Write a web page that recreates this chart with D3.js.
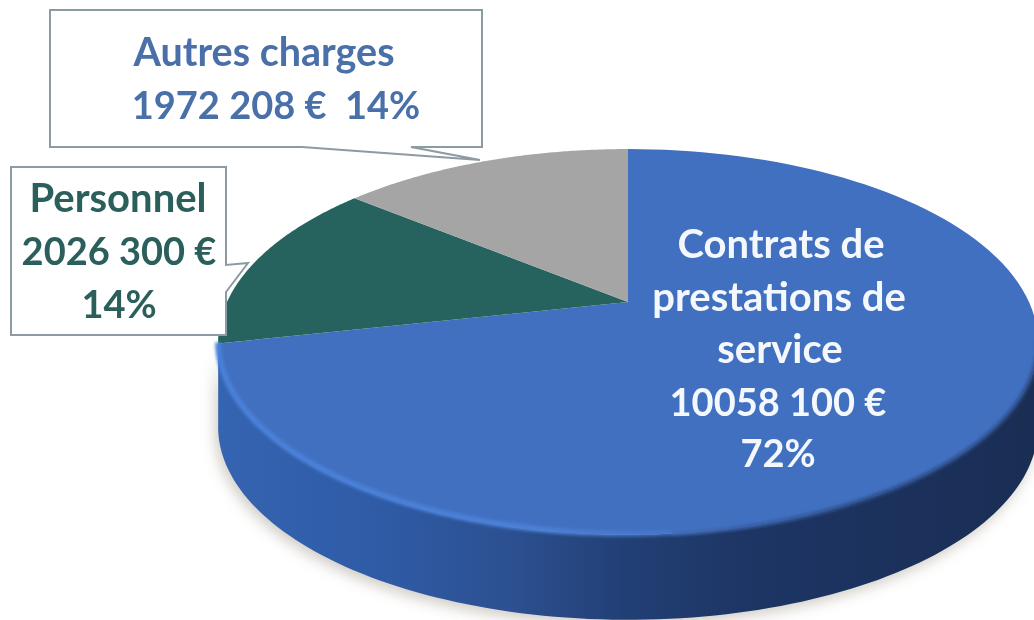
<!DOCTYPE html>
<html lang="fr">
  <head>
    <meta charset="UTF-8" />
    <title>Charges</title>
    <style>
      html, body { margin: 0; padding: 0; background: #fff; }
      svg { display: block; }
      text { font-family: Lato, 'Open Sans', sans-serif; font-weight: 700; text-anchor: middle; }
    </style>
  </head>
  <body>
    <svg width="1034" height="620"></svg>
    <script src="https://cdnjs.cloudflare.com/ajax/libs/d3/7.8.5/d3.min.js"></script>
    <script>
      const categories = ['Contrats de prestations de service', 'Personnel', 'Autres charges'];
      const values = [10058100, 2026300, 1972208];
      const colors = ['#4170c1', '#26635f', '#a5a5a5'];
      const blueLabel = ['Contrats de', 'prestations de', 'service', '10058 100 €', '72%'];
      const greenLabel = ['Personnel', '2026 300 €', '14%'];
      const greyLabel = ['Autres charges', '1972 208 €  14%'];

      const svg = d3.select('svg');
      const defs = svg.append('defs');

      // tilted disc: unit circle seen through a perspective, so the centre sits above the ellipse centre
      const cx = 628, apexY = 302, radius = 401, depth = 85;
      const tilt = -0.207, stretch = 122.1;
      function project(angle, r = 1) {
        const u = Math.sin(angle) * r;
        const v = -Math.cos(angle) * r;
        const w = 1 + tilt * v;
        return [cx + (radius * u) / w, (stretch * v + apexY) / w];
      }
      function rim(a0, a1, n = 120) {
        const t = d3.scaleLinear().domain([0, n]).range([a0, a1]);
        return d3.range(n + 1).map((i) => project(t(i)));
      }
      const rad = (deg) => (deg * Math.PI) / 180;
      const line = d3.line();

      const pie = d3.pie().sort(null).value((d) => d);
      const slices = pie(values);

      // wall under the visible front of the rim
      const front = rim(rad(102), rad(259));
      const wallPts = front.concat(front.slice().reverse().map((p) => [p[0], p[1] + depth]));

      const wallGrad = defs.append('linearGradient').attr('id', 'wallGrad')
        .attr('gradientUnits', 'userSpaceOnUse')
        .attr('x1', 216).attr('x2', 1034).attr('y1', 0).attr('y2', 0);
      [[0, '#3564b2'], [0.2, '#2f5ba6'], [0.36, '#2c5091'], [0.5, '#223f75'], [0.66, '#1d3564'], [1, '#1a2e54']]
        .forEach((s) => wallGrad.append('stop').attr('offset', s[0]).attr('stop-color', s[1]));

      const hiGrad = defs.append('linearGradient').attr('id', 'hiGrad')
        .attr('gradientUnits', 'userSpaceOnUse')
        .attr('x1', 216).attr('x2', 860).attr('y1', 0).attr('y2', 0);
      [[0, '#4a80d8', 1], [0.5, '#4b80d6', 1], [0.75, '#4676c8', 0.6], [1, '#4170c1', 0]]
        .forEach((s) => hiGrad.append('stop').attr('offset', s[0]).attr('stop-color', s[1]).attr('stop-opacity', s[2]));

      const blur = (id, dev) => defs.append('filter').attr('id', id)
        .attr('x', '-10%').attr('y', '-10%').attr('width', '120%').attr('height', '120%')
        .append('feGaussianBlur').attr('stdDeviation', dev);
      blur('soft', 7);
      blur('edge', 1.8);
      blur('text', 0.45);

      // drop shadow
      svg.append('path')
        .attr('d', line(wallPts) + 'Z')
        .attr('transform', 'translate(-3,5)')
        .attr('fill', '#c4c0b8')
        .attr('opacity', 0.8)
        .attr('filter', 'url(#soft)');

      svg.append('path')
        .attr('d', line(wallPts) + 'Z')
        .attr('fill', 'url(#wallGrad)');

      // top face
      svg.selectAll('path.slice')
        .data(slices)
        .enter()
        .append('path')
        .attr('class', 'slice')
        .attr('fill', (d, i) => colors[i])
        .attr('d', (d) => line([[cx, apexY]].concat(rim(d.startAngle, d.endAngle))) + 'Z');

      // soft edge where the top face meets the dark right wall
      svg.append('path')
        .attr('d', line(rim(rad(102), rad(175))))
        .attr('fill', 'none')
        .attr('stroke', '#2d4f8c')
        .attr('stroke-width', 4)
        .attr('filter', 'url(#edge)');

      // bevel highlight along the front rim
      svg.append('path')
        .attr('d', line(rim(slices[0].endAngle, rad(150)).map((p) => [p[0], p[1] - 1])))
        .attr('fill', 'none')
        .attr('stroke', 'url(#hiGrad)')
        .attr('stroke-width', 6)
        .attr('filter', 'url(#edge)');

      // callouts
      function callout(d) {
        svg.append('path')
          .attr('d', line(d) + 'Z')
          .attr('fill', '#fff')
          .attr('stroke', '#8b9ba3')
          .attr('stroke-width', 2)
          .attr('stroke-linejoin', 'miter');
      }
      callout([[50, 10], [482, 10], [482, 147], [411, 147], [480, 160], [302, 147], [50, 147]]);
      callout([[11, 167], [226, 167], [226, 265], [248, 263], [226, 292], [226, 335], [11, 335]]);

      function label(lines, xs, ys, sizes, fill) {
        svg.append('g')
          .attr('filter', 'url(#text)')
          .selectAll('text')
          .data(lines)
          .enter()
          .append('text')
          .attr('xml:space', 'preserve')
          .attr('x', (d, i) => xs[i])
          .attr('y', (d, i) => ys[i])
          .attr('fill', fill)
          .attr('font-size', (d, i) => sizes[i])
          .text((d) => d);
      }
      label(greyLabel, [264, 276], [66, 119], [39.5, 38], '#4a6fa9');
      label(greenLabel, [118, 119, 119], [212, 265, 318], [40, 38, 38], '#2b5f5b');
      label(blueLabel, [781, 779, 780, 778, 778], [258, 311, 363, 416, 467], [40, 40, 40, 38, 38], '#f4f7fb');
    </script>
  </body>
</html>
